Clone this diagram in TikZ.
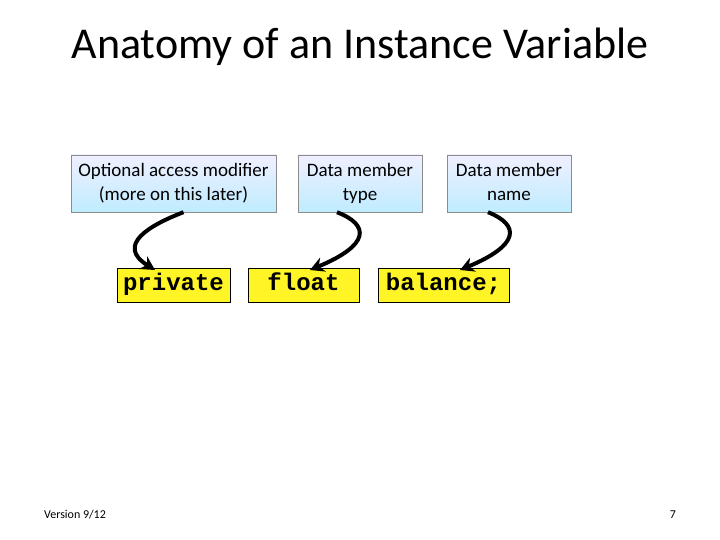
\documentclass[tikz,border=0pt]{standalone}
\usepackage{fontspec}
\setmainfont{Carlito}
\newfontfamily\codefont{Liberation Mono}
\usetikzlibrary{arrows.meta}
\begin{document}
\begin{tikzpicture}[x=1pt,y=-1pt,
  bluebox/.style={draw=black!45,top color=blue!6,bottom color=blue!30!cyan!25,minimum height=57,align=center,font=\fontsize{19}{24}\selectfont,inner sep=0pt},
  codebox/.style={draw=black,fill=yellow!85!white,minimum height=34,text height=14,text depth=3,font=\codefont\bfseries\fontsize{24}{24}\selectfont,inner sep=0pt},
  arr/.style={line width=4pt,-{Stealth[length=14pt,width=15pt]}}]
\useasboundingbox (0,0) rectangle (720,540);
\node (t) at (360,47) {\fontsize{44}{48}\selectfont Anatomy of an Instance Variable};
\node[bluebox,minimum width=205] (b1) at (173.5,183.5) {Optional access modifier\strut\\(more on this later)\strut};
\node[bluebox,minimum width=124] (b2) at (360,183.5) {Data member\strut\\type\strut};
\node[bluebox,minimum width=124] (b3) at (509,183.5) {Data member\strut\\name\strut};
\node[codebox,minimum width=113] (c1) at (173.5,285) {private};
\node[codebox,minimum width=111] (c2) at (303.5,285) {float};
\node[codebox,minimum width=131] (c3) at (443.5,285) {balance;};
\coordinate (e1) at (155,270);
\coordinate (e2) at (310,270);
\coordinate (e3) at (460,270);
\draw[arr] (b1.south) ++(10,0) .. controls (150,225) and (115,245) .. (e1);
\draw[arr] (b2.south) ++(-23,0) .. controls (370,225) and (370,245) .. (e2);
\draw[arr] (b3.south) ++(-21,0) .. controls (520,225) and (520,245) .. (e3);
\node[font=\fontsize{12}{14}\selectfont] (v) at (75,515) {Version 9/12};
\node[font=\fontsize{12}{14}\selectfont] (n) at (673,515) {7};
\end{tikzpicture}
\end{document}
